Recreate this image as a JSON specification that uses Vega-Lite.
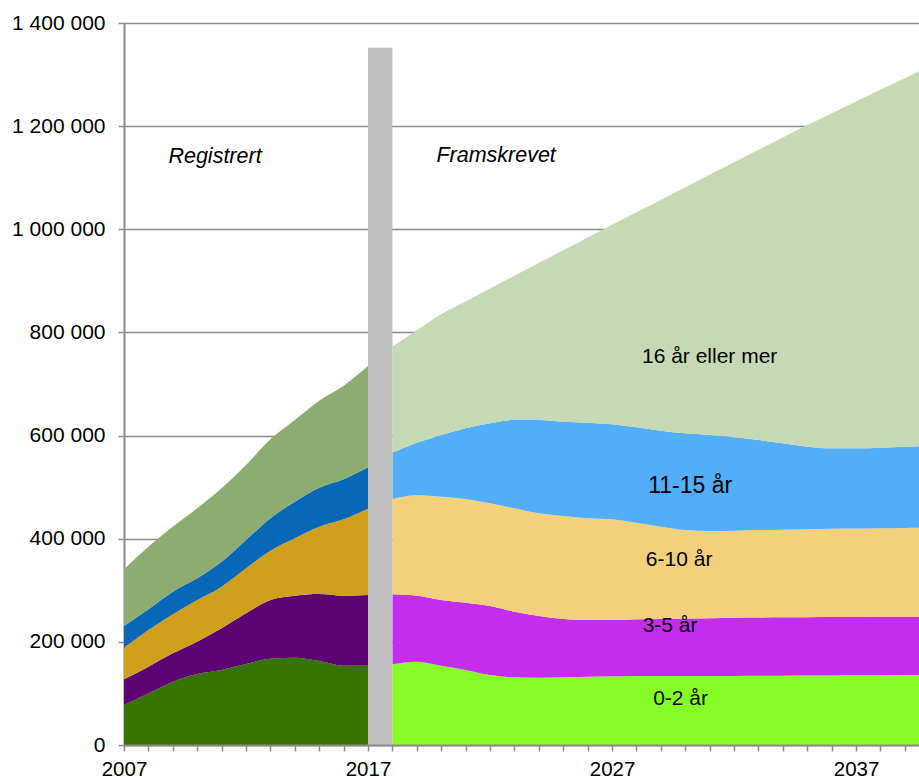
{
  "$schema": "https://vega.github.io/schema/vega-lite/v6.json",
  "width": 795,
  "height": 722,
  "autosize": {"type": "none"},
  "padding": {"left": 124, "top": 23, "right": 0, "bottom": 33},
  "background": "white",
  "config": {
    "view": {"stroke": null},
    "locale": {"number": {"decimal": ",", "thousands": "\u00a0", "grouping": [3], "currency": ["", " kr"]}},
    "font": "Liberation Sans"
  },
  "datasets": {
    "areas": [
      {"year": 2007, "period": "Registrert", "a0_2": 77600, "a3_5": 49800, "a6_10": 61300, "a11_15": 42000, "a16": 110000},
      {"year": 2008, "period": "Registrert", "a0_2": 100000, "a3_5": 51900, "a6_10": 71100, "a11_15": 40100, "a16": 121400},
      {"year": 2009, "period": "Registrert", "a0_2": 122800, "a3_5": 55000, "a6_10": 75600, "a11_15": 43900, "a16": 126000},
      {"year": 2010, "period": "Registrert", "a0_2": 137700, "a3_5": 62700, "a6_10": 80800, "a11_15": 42000, "a16": 135800},
      {"year": 2011, "period": "Registrert", "a0_2": 145400, "a3_5": 80800, "a6_10": 80800, "a11_15": 48400, "a16": 142400},
      {"year": 2012, "period": "Registrert", "a0_2": 157000, "a3_5": 98300, "a6_10": 87300, "a11_15": 54900, "a16": 145500},
      {"year": 2013, "period": "Registrert", "a0_2": 167400, "a3_5": 113800, "a6_10": 95600, "a11_15": 62800, "a16": 153200},
      {"year": 2014, "period": "Registrert", "a0_2": 169400, "a3_5": 120200, "a6_10": 111200, "a11_15": 71000, "a16": 158400},
      {"year": 2015, "period": "Registrert", "a0_2": 162900, "a3_5": 129900, "a6_10": 130500, "a11_15": 75600, "a16": 168700},
      {"year": 2016, "period": "Registrert", "a0_2": 153800, "a3_5": 135800, "a6_10": 148000, "a11_15": 77600, "a16": 181500},
      {"year": 2017, "period": "Registrert", "a0_2": 153800, "a3_5": 137100, "a6_10": 167300, "a11_15": 80300, "a16": 196500},
      {"year": 2018, "period": "Framskrevet", "a0_2": 156500, "a3_5": 135600, "a6_10": 184900, "a11_15": 89800, "a16": 205200},
      {"year": 2019, "period": "Framskrevet", "a0_2": 161600, "a3_5": 128000, "a6_10": 194600, "a11_15": 102000, "a16": 217800},
      {"year": 2020, "period": "Framskrevet", "a0_2": 153800, "a3_5": 127400, "a6_10": 200300, "a11_15": 119600, "a16": 234300},
      {"year": 2021, "period": "Framskrevet", "a0_2": 145400, "a3_5": 130600, "a6_10": 201000, "a11_15": 137100, "a16": 245900},
      {"year": 2022, "period": "Framskrevet", "a0_2": 135700, "a3_5": 133800, "a6_10": 199100, "a11_15": 155200, "a16": 261200},
      {"year": 2023, "period": "Framskrevet", "a0_2": 131200, "a3_5": 127300, "a6_10": 200500, "a11_15": 171200, "a16": 279800},
      {"year": 2024, "period": "Framskrevet", "a0_2": 130600, "a3_5": 119500, "a6_10": 199200, "a11_15": 180900, "a16": 304300},
      {"year": 2025, "period": "Framskrevet", "a0_2": 131200, "a3_5": 113100, "a6_10": 199700, "a11_15": 182900, "a16": 332400},
      {"year": 2026, "period": "Framskrevet", "a0_2": 132500, "a3_5": 109900, "a6_10": 197200, "a11_15": 185400, "a16": 359000},
      {"year": 2027, "period": "Framskrevet", "a0_2": 133100, "a3_5": 109300, "a6_10": 195200, "a11_15": 184200, "a16": 387200},
      {"year": 2028, "period": "Framskrevet", "a0_2": 133800, "a3_5": 109900, "a6_10": 187400, "a11_15": 184900, "a16": 417000},
      {"year": 2029, "period": "Framskrevet", "a0_2": 133800, "a3_5": 110700, "a6_10": 178800, "a11_15": 186200, "a16": 447500},
      {"year": 2030, "period": "Framskrevet", "a0_2": 133800, "a3_5": 111500, "a6_10": 171600, "a11_15": 187500, "a16": 477100},
      {"year": 2031, "period": "Framskrevet", "a0_2": 134000, "a3_5": 112000, "a6_10": 169000, "a11_15": 186100, "a16": 504600},
      {"year": 2032, "period": "Framskrevet", "a0_2": 134000, "a3_5": 112900, "a6_10": 168700, "a11_15": 181000, "a16": 533400},
      {"year": 2033, "period": "Framskrevet", "a0_2": 134300, "a3_5": 112900, "a6_10": 169700, "a11_15": 174500, "a16": 562600},
      {"year": 2034, "period": "Framskrevet", "a0_2": 134500, "a3_5": 113000, "a6_10": 170000, "a11_15": 167400, "a16": 593100},
      {"year": 2035, "period": "Framskrevet", "a0_2": 134800, "a3_5": 113000, "a6_10": 170700, "a11_15": 159900, "a16": 623600},
      {"year": 2036, "period": "Framskrevet", "a0_2": 135000, "a3_5": 113000, "a6_10": 171500, "a11_15": 155700, "a16": 649800},
      {"year": 2037, "period": "Framskrevet", "a0_2": 135200, "a3_5": 113100, "a6_10": 171700, "a11_15": 155200, "a16": 672800},
      {"year": 2038, "period": "Framskrevet", "a0_2": 135400, "a3_5": 113100, "a6_10": 172000, "a11_15": 156000, "a16": 694000},
      {"year": 2039, "period": "Framskrevet", "a0_2": 135600, "a3_5": 113100, "a6_10": 172300, "a11_15": 157400, "a16": 714600},
      {"year": 2040, "period": "Framskrevet", "a0_2": 135700, "a3_5": 113100, "a6_10": 172600, "a11_15": 158100, "a16": 736500}
    ],
    "bar": [
      {"year": 2017, "year_end": 2018, "value": 1352000}
    ],
    "italic_labels": [
      {"label": "Registrert", "year": 2010.73, "value": 1128500},
      {"label": "Framskrevet", "year": 2022.25, "value": 1131000}
    ],
    "labels": [
      {"label": "16 år eller mer", "year": 2031.0, "value": 741300},
      {"label": "6-10 år", "year": 2029.75, "value": 347100},
      {"label": "3-5 år", "year": 2029.38, "value": 218800},
      {"label": "0-2 år", "year": 2029.81, "value": 77600}
    ],
    "big_labels": [
      {"label": "11-15 år", "year": 2030.2, "value": 488000}
    ]
  },
  "encoding": {
    "x": {
      "field": "year",
      "type": "quantitative",
      "scale": {"domain": [2007, 2039.58], "nice": false, "zero": false},
      "axis": {
        "title": null,
        "values": [2007, 2008, 2009, 2010, 2011, 2012, 2013, 2014, 2015, 2016, 2017, 2018, 2019, 2020, 2021, 2022, 2023, 2024, 2025, 2026, 2027, 2028, 2029, 2030, 2031, 2032, 2033, 2034, 2035, 2036, 2037, 2038, 2039],
        "labelExpr": "(datum.value - 2007) % 10 == 0 ? '' + datum.value : ''",
        "labelOverlap": false,
        "labelFlush": false,
        "labelFont": "Liberation Sans",
        "labelFontSize": 20.5,
        "labelColor": "#000000",
        "labelPadding": 8,
        "grid": false,
        "domainColor": "#8a8a8a",
        "domainWidth": 2,
        "tickColor": "#8a8a8a",
        "tickWidth": 1.5,
        "tickSize": 6,
        "zindex": 1
      }
    },
    "y": {
      "field": "value",
      "type": "quantitative",
      "scale": {"domain": [0, 1400000], "nice": false},
      "axis": {
        "title": null,
        "values": [0, 200000, 400000, 600000, 800000, 1000000, 1200000, 1400000],
        "format": ",d",
        "labelFont": "Liberation Sans",
        "labelFontSize": 21,
        "labelColor": "#000000",
        "labelPadding": 13,
        "grid": true,
        "gridColor": "#8a8a8a",
        "gridWidth": 1.5,
        "domainColor": "#8a8a8a",
        "domainWidth": 2,
        "tickColor": "#8a8a8a",
        "tickWidth": 1.5,
        "tickSize": 6
      }
    }
  },
  "layer": [
    {
      "data": {"name": "areas"},
      "transform": [
        {"filter": "datum.period == 'Registrert'"},
        {"fold": ["a0_2", "a3_5", "a6_10", "a11_15", "a16"], "as": ["key", "value"]},
        {"calculate": "indexof(['a0_2', 'a3_5', 'a6_10', 'a11_15', 'a16'], datum.key)", "as": "rank"}
      ],
      "mark": {"type": "area", "interpolate": "monotone", "clip": true},
      "encoding": {
        "y": {"field": "value", "type": "quantitative", "stack": "zero"},
        "color": {
          "field": "key",
          "type": "nominal",
          "scale": {"domain": ["a0_2", "a3_5", "a6_10", "a11_15", "a16"], "range": ["#387400", "#5c0474", "#d09f1c", "#0868b8", "#8cac72"]},
          "legend": null
        },
        "order": {"field": "rank", "type": "quantitative", "sort": "ascending"}
      }
    },
    {
      "data": {"name": "areas"},
      "transform": [
        {"filter": "datum.period == 'Framskrevet'"},
        {"fold": ["a0_2", "a3_5", "a6_10", "a11_15", "a16"], "as": ["key", "value"]},
        {"calculate": "indexof(['a0_2', 'a3_5', 'a6_10', 'a11_15', 'a16'], datum.key)", "as": "rank"}
      ],
      "mark": {"type": "area", "interpolate": "monotone", "clip": true},
      "encoding": {
        "y": {"field": "value", "type": "quantitative", "stack": "zero"},
        "color": {
          "field": "key",
          "type": "nominal",
          "scale": {"domain": ["a0_2", "a3_5", "a6_10", "a11_15", "a16"], "range": ["#86fd26", "#c42df0", "#f2d07c", "#52aef8", "#c5d9b4"]},
          "legend": null
        },
        "order": {"field": "rank", "type": "quantitative", "sort": "ascending"}
      }
    },
    {
      "data": {"name": "bar"},
      "mark": {"type": "rect", "color": "#bfbfbf"},
      "encoding": {
        "x2": {"field": "year_end"},
        "y2": {"datum": 0}
      }
    },
    {
      "data": {"name": "italic_labels"},
      "mark": {"type": "text", "font": "Liberation Sans", "fontStyle": "italic", "fontSize": 21.5, "align": "center", "baseline": "alphabetic", "color": "#000000"},
      "encoding": {"text": {"field": "label"}}
    },
    {
      "data": {"name": "labels"},
      "mark": {"type": "text", "font": "Liberation Sans", "fontSize": 21, "align": "center", "baseline": "alphabetic", "color": "#000000"},
      "encoding": {"text": {"field": "label"}}
    },
    {
      "data": {"name": "big_labels"},
      "mark": {"type": "text", "font": "Liberation Sans", "fontSize": 23, "align": "center", "baseline": "alphabetic", "color": "#000000"},
      "encoding": {"text": {"field": "label"}}
    }
  ],
  "resolve": {"scale": {"color": "independent"}}
}
